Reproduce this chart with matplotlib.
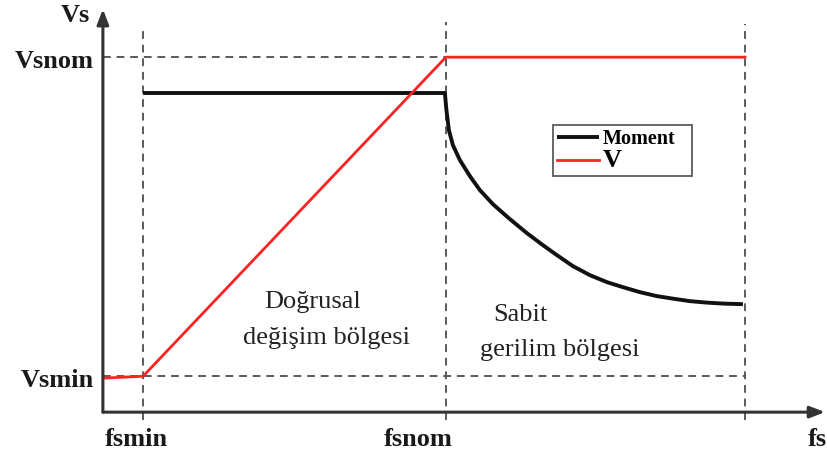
import numpy as np
import matplotlib
matplotlib.use('Agg')
import matplotlib.pyplot as plt

# normalised units: fsnom = 1, Vsnom = 1
fsmin, fsnom, fsend = 0.117, 1.0, 1.872
vsmin, vsnom = 0.101, 1.0

# stator voltage V(f)
f_volt = [0.006, 0.117, 1.0, 1.872]
v_volt = [0.096, 0.101, 1.0, 1.0]

# torque (Moment) curve: flat up to fsnom, then falling off
f_mom = [0.117, 0.997, 1.0015, 1.0087, 1.0204, 1.0408, 1.0700, 1.0991, 1.1370,
         1.1866, 1.2362, 1.2828, 1.3236, 1.3703, 1.4198, 1.4694, 1.5160, 1.5656,
         1.6152, 1.6618, 1.7114, 1.7609, 1.8134, 1.8659]
m_mom = [0.899, 0.899, 0.8507, 0.7944, 0.7521, 0.7099, 0.6648, 0.6254, 0.5859,
         0.5437, 0.5042, 0.4704, 0.4423, 0.4113, 0.3859, 0.3662, 0.3521, 0.3380,
         0.3268, 0.3197, 0.3127, 0.3085, 0.3056, 0.3042]

serif = 'Liberation Serif'
txtcol = '#1a1a1a'
dashcol = '#5a5a5a'

fig = plt.figure(figsize=(8.27, 4.59), dpi=100)
ax = fig.add_axes([0, 0, 1, 1])
ax.set_xlim(-0.300, 2.111)
ax.set_ylim(-0.132, 1.161)
ax.axis('off')

# axes with arrows
arrow = dict(arrowstyle='-|>,head_length=0.9,head_width=0.35', color='#333333', lw=2.2,
             shrinkA=0, shrinkB=0)
ax.annotate('', xy=(0, 1.135), xytext=(0, 0), arrowprops=arrow)
ax.annotate('', xy=(2.105, 0), xytext=(0, 0), arrowprops=arrow)

# guide lines
dash = (0, (4, 3))
ax.plot([fsmin, fsmin], [-0.023, 1.076], color=dashcol, lw=1.4, ls=dash)
ax.plot([fsnom, fsnom], [-0.023, 1.099], color=dashcol, lw=1.4, ls=dash)
ax.plot([fsend, fsend], [-0.023, 1.093], color=dashcol, lw=1.4, ls=dash)
ax.plot([0, fsend], [vsnom, vsnom], color=dashcol, lw=1.4, ls=dash)
ax.plot([0, fsend], [vsmin, vsmin], color=dashcol, lw=1.4, ls=dash)

ax.plot(f_mom, m_mom, color='#111111', lw=2.8, label='Moment', solid_capstyle='butt')
ax.plot(f_volt, v_volt, color='#ff2222', lw=2.0, label='V')

# axis labels
lab = dict(fontfamily=serif, fontweight='bold', fontsize=19, color=txtcol)
ax.text(-0.080, 1.118, 'Vs', ha='center', va='center', **lab)
ax.text(-0.026, vsnom - 0.012, 'Vsnom', ha='right', va='center', **lab)
ax.text(-0.026, vsmin - 0.012, 'Vsmin', ha='right', va='center', **lab)
ax.text(fsmin - 0.020, -0.078, 'fsmin', ha='center', va='center', **lab)
ax.text(fsnom - 0.082, -0.078, 'fsnom', ha='center', va='center', **lab)
ax.text(2.055, -0.078, 'fs', ha='left', va='center', **lab)

reg = dict(fontfamily=serif, fontsize=19, color='#222222', ha='center', va='center')
ax.text(0.610, 0.310, 'Doğrusal', **reg)
ax.text(0.653, 0.208, 'değişim bölgesi', **reg)
ax.text(1.216, 0.273, 'Sabit', **reg)
ax.text(1.332, 0.175, 'gerilim bölgesi', **reg)

leg = ax.legend(loc='upper left', mode='expand',
                bbox_to_anchor=(553 / 827, 1 - 174 / 459, 139 / 827, 49 / 459),
                borderaxespad=0, fancybox=False, edgecolor='#666666', framealpha=1,
                prop=dict(family=serif, weight='bold', size=14.5),
                handlelength=2.1, handletextpad=0.15, labelspacing=0.0,
                borderpad=0.2)
leg.get_frame().set_linewidth(1.4)
leg.get_texts()[1].set_fontsize(19)

fig.savefig('out.png', dpi=100)
